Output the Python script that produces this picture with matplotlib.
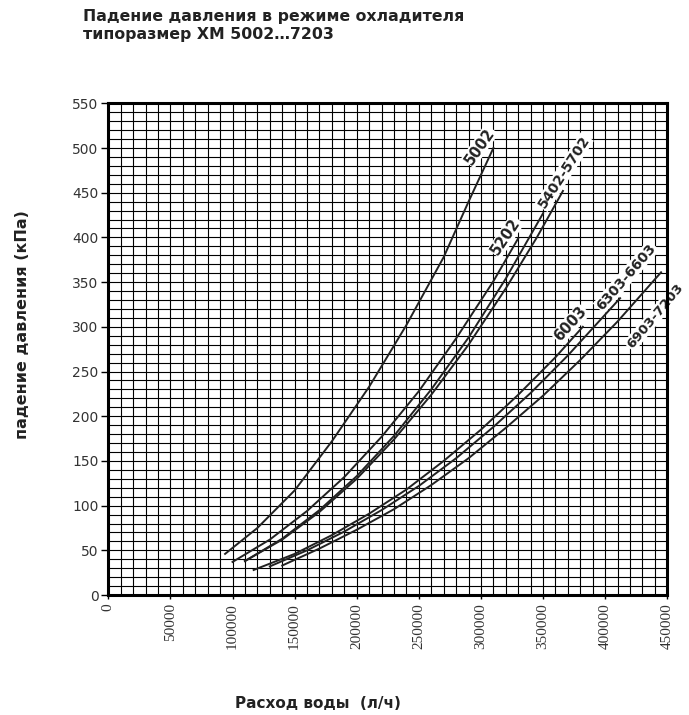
import matplotlib
matplotlib.use("Agg")
import matplotlib.pyplot as plt
from matplotlib.ticker import MultipleLocator

# ---- data ----
x_5002 = [94000, 120000, 150000, 180000, 210000, 240000, 270000, 290000, 310000]
y_5002 = [46, 75, 117, 172, 233, 302, 378, 440, 500]

x_5202 = [100000, 130000, 160000, 190000, 220000, 250000, 280000, 310000, 330000]
y_5202 = [37, 62, 94, 132, 177, 228, 287, 351, 399]

x_5402 = [110000, 140000, 170000, 200000, 230000, 260000, 290000, 320000, 350000]
y_5402 = [38, 63, 95, 133, 178, 230, 288, 354, 427]

x_5702 = [110000, 140000, 170000, 200000, 230000, 260000, 290000, 320000, 345000, 366000]
y_5702 = [38, 62, 93, 130, 174, 224, 280, 343, 400, 452]

x_6003 = [117000, 150000, 180000, 210000, 240000, 270000, 300000, 330000, 360000, 382000]
y_6003 = [28, 46, 67, 91, 118, 150, 185, 224, 266, 300]

x_6303 = [130000, 160000, 190000, 220000, 250000, 280000, 310000, 340000, 370000, 412000]
y_6303 = [32, 50, 71, 95, 122, 153, 188, 226, 268, 332]

x_6903 = [140000, 170000, 200000, 230000, 260000, 290000, 320000, 350000, 380000, 410000, 445000]
y_6903 = [33, 52, 73, 96, 123, 153, 187, 223, 263, 306, 361]

curve_labels = ["5002", "5202", "5402-5702", "6003", "6303-6603", "6903-7203"]
label_x = [299000, 320000, 367000, 372000, 417000, 440000]
label_y = [502, 401, 473, 303, 356, 312]
label_rot = [55, 56, 57, 48, 49, 50]
label_size = [10.5, 10.5, 10, 10.5, 10, 9.6]

y_ticks = list(range(0, 551, 50))
x_ticks = list(range(0, 450001, 50000))

title_text = "Падение давления в режиме охладителя\nтипоразмер ХМ 5002…7203"
x_label = "Расход воды  (л/ч)"
y_label = "падение давления (кПа)"

# ---- figure ----
bold_font = ["DejaVu Sans"]
fig = plt.figure(figsize=(6.89, 7.15), dpi=100)
ax = fig.add_axes([0.1572, 0.1678, 0.8113, 0.6877])

ax.set_xlim(0, 450000)
ax.set_ylim(0, 550)
ax.xaxis.set_minor_locator(MultipleLocator(10000))
ax.yaxis.set_minor_locator(MultipleLocator(10))
ax.set_xticks(x_ticks)
ax.set_yticks(y_ticks)
ax.grid(which="both", color="black", linewidth=0.8, zorder=0.5)
ax.set_axisbelow(True)

for xs, ys in [(x_5002, y_5002), (x_5202, y_5202), (x_5402, y_5402),
               (x_5702, y_5702), (x_6003, y_6003), (x_6303, y_6303),
               (x_6903, y_6903)]:
    ax.plot(xs, ys, color="#222222", linewidth=1.4, zorder=3)

for t, lx, ly, r, fs in zip(curve_labels, label_x, label_y, label_rot, label_size):
    ax.text(lx, ly, t, rotation=r, ha="center", va="center", fontsize=fs,
            fontweight="bold", family=bold_font, color="#222222", zorder=2.5,
            clip_on=False, rotation_mode="anchor",
            bbox=dict(facecolor="white", edgecolor="none", pad=0.6))

for s in ax.spines.values():
    s.set_linewidth(2.2)
    s.set_color("black")
    s.set_zorder(4)

ax.tick_params(axis="y", which="major", length=5, width=1, labelsize=10,
               labelcolor="#333333", pad=2)
ax.tick_params(axis="x", which="major", length=3, width=1, labelsize=11,
               labelcolor="#333333", pad=3)
ax.tick_params(which="minor", length=0)
ax.set_xticklabels([str(v) for v in x_ticks], family="Liberation Serif",
                   rotation=90)

fig.text(83 / 689, 1 - 9 / 715, title_text, ha="left", va="top", fontsize=11.3,
         fontweight="bold", family=bold_font, color="#222222", linespacing=1.25)
fig.text(318 / 689, 1 - 703 / 715, x_label, ha="center", va="center", fontsize=11,
         fontweight="bold", family=bold_font, color="#222222")
fig.text(22.5 / 689, 1 - 325 / 715, y_label, ha="center", va="center", rotation=90,
         fontsize=11.5, fontweight="bold", family=bold_font, color="#222222")

fig.savefig("out.png", dpi=100)
